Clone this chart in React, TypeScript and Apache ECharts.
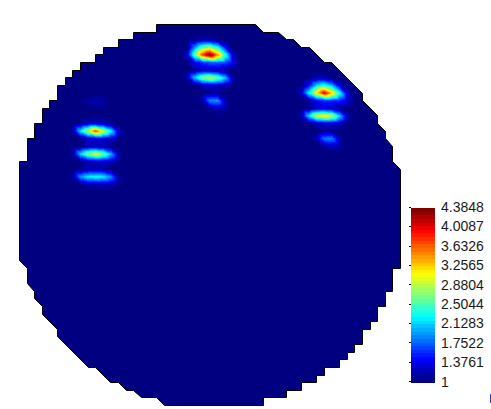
import React, { useEffect, useRef } from "react";
import * as echarts from "echarts";

const vMin = 1;
const vMax = 4.3848;
const tickValues = [1, 1.3761, 1.7522, 2.1283, 2.5044, 2.8804, 3.2565, 3.6326, 4.0087, 4.3848];
const bandCount = 48;

// Wafer outline, as mesh node columns and rows (clockwise from the top edge).
const outlineCol = [18,31,32,34,35,36,37,38,40,41,45,45,47,47,48,48,49,49,50,50,49,49,48,48,47,47,46,46,45,45,44,44,43,43,42,42,40,40,39,39,37,37,35,35,32,32,19,18,16,15,14,13,12,10,9,5,5,3,3,2,2,1,1,0,0,1,1,2,2,3,3,4,4,5,5,6,6,7,7,8,8,10,10,11,11,13,13,15,15,18];
const outlineRow = [0,0,1,1,2,2,3,3,5,5,9,10,12,13,14,15,16,18,19,32,32,35,35,37,37,39,39,40,40,42,42,43,43,44,44,45,45,46,46,47,47,48,48,49,49,50,50,49,49,48,48,47,47,45,45,41,40,38,37,36,35,34,32,31,18,18,15,15,13,13,11,11,10,10,8,8,7,7,6,6,5,5,4,4,3,3,2,2,1,1];

// Mesh node values above the base level of 1: [column, row, value].
const spotTopCentre = [
  [23,2,1.05],[24,2,1.18],[25,2,1.18],[26,2,1.08],
  [23,3,1.9],[24,3,2.55],[25,3,2.75],[26,3,2.35],[27,3,1.5],
  [22,4,1.3],[23,4,2.6],[24,4,3.75],[25,4,4.38],[26,4,3.5],[27,4,2.45],[28,4,1.35],
  [22,5,1.05],[23,5,1.4],[24,5,1.6],[25,5,1.7],[26,5,1.75],[27,5,1.7],[28,5,1.35],
];
const spotMidCentre = [
  [22,7,1.2],[23,7,2.1],[24,7,2.7],[25,7,2.95],[26,7,2.65],[27,7,2.1],[28,7,1.2],
  [23,6,1.1],[24,6,1.25],[25,6,1.25],[26,6,1.2],[27,6,1.08],
  [23,8,1.08],[24,8,1.2],[25,8,1.25],[26,8,1.25],[27,8,1.2],
];
const spotLowCentre = [
  [24,10,1.2],[25,10,1.9],[26,10,1.95],[27,10,1.2],
  [25,9,1.1],[26,9,1.1],[25,11,1.12],[26,11,1.2],[27,11,1.15],
];
const spotTopRight = [
  [38,8,1.45],[39,8,2.15],[40,8,2.4],[41,8,2.05],[42,8,1.35],
  [39,7,1.18],[40,7,1.18],[41,7,1.08],
  [37,9,1.3],[38,9,2.3],[39,9,3.2],[40,9,4.05],[41,9,3.3],[42,9,2.35],[43,9,1.35],
  [38,10,1.15],[39,10,1.45],[40,10,1.6],[41,10,1.6],[42,10,1.55],[43,10,1.3],
];
const spotMidRight = [
  [37,12,1.2],[38,12,2.2],[39,12,3.0],[40,12,3.2],[41,12,2.95],[42,12,2.15],[43,12,1.25],
  [38,11,1.08],[39,11,1.25],[40,11,1.28],[41,11,1.25],[42,11,1.1],
  [38,13,1.08],[39,13,1.22],[40,13,1.25],[41,13,1.28],[42,13,1.22],
];
const spotLowRight = [
  [39,15,1.2],[40,15,1.85],[41,15,1.9],[42,15,1.2],
  [40,14,1.1],[41,14,1.1],[40,16,1.12],[41,16,1.2],[42,16,1.15],
];
const spotFaintLeft = [
  [8,10,1.08],[9,10,1.12],[10,10,1.18],[11,10,1.16],[12,10,1.05],
  [9,11,1.05],[10,11,1.08],[11,11,1.08],
];
const spotUpperLeft = [
  [7,14,1.15],[8,14,2.2],[9,14,2.95],[10,14,3.75],[11,14,3.0],[12,14,2.3],[13,14,1.3],
  [8,13,1.08],[9,13,1.25],[10,13,1.3],[11,13,1.25],[12,13,1.08],
  [8,15,1.05],[9,15,1.25],[10,15,1.3],[11,15,1.3],[12,15,1.25],[13,15,1.05],
];
const spotMiddleLeft = [
  [7,17,1.15],[8,17,2.15],[9,17,2.75],[10,17,3.05],[11,17,2.7],[12,17,2.05],[13,17,1.2],
  [8,16,1.05],[9,16,1.2],[10,16,1.22],[11,16,1.2],[12,16,1.05],
  [8,18,1.05],[9,18,1.2],[10,18,1.25],[11,18,1.25],[12,18,1.2],[13,18,1.05],
];
const spotLowerLeft = [
  [7,20,1.15],[8,20,1.95],[9,20,2.25],[10,20,2.3],[11,20,2.25],[12,20,1.9],[13,20,1.15],
  [8,19,1.05],[9,19,1.18],[10,19,1.2],[11,19,1.18],[12,19,1.05],
  [8,21,1.05],[9,21,1.18],[10,21,1.2],[11,21,1.2],[12,21,1.18],[13,21,1.05],
];

const spots = [
  spotTopCentre, spotMidCentre, spotLowCentre, spotTopRight, spotMidRight,
  spotLowRight, spotFaintLeft, spotUpperLeft, spotMiddleLeft, spotLowerLeft,
];

function jet(t: number): string {
  const c = (x: number) => Math.round(255 * Math.max(0, Math.min(1, x)));
  const r = 1.5 - Math.abs(4 * t - 3);
  const g = 1.5 - Math.abs(4 * t - 2);
  const b = 1.5 - Math.abs(4 * t - 1);
  return `rgb(${c(r)},${c(g)},${c(b)})`;
}
const bandColors = Array.from({ length: bandCount }, (_, i) => jet(i / (bandCount - 1)));
const bandIndex = (v: number) =>
  Math.max(0, Math.min(bandCount - 1, Math.floor(((v - vMin) / (vMax - vMin)) * bandCount)));

const nodeValues = new Map<string, number>();
spots.forEach((s) => s.forEach(([k, j, v]) => nodeValues.set(k + "," + j, v)));
const nodeValue = (k: number, j: number) => nodeValues.get(k + "," + j) ?? vMin;

// One item for each mesh cell that has a corner above the base level.
const cellData: number[][] = [];
for (let j = 0; j < 50; j++) {
  for (let k = 0; k < 50; k++) {
    const a = nodeValue(k, j), b = nodeValue(k + 1, j), c = nodeValue(k, j + 1), d = nodeValue(k + 1, j + 1);
    if (a > vMin || b > vMin || c > vMin || d > vMin) cellData.push([k, j, a, b, c, d]);
  }
}
const bandData = bandColors.map((_, i) => [
  vMin + ((vMax - vMin) * i) / bandCount,
  vMin + ((vMax - vMin) * (i + 1)) / bandCount,
  i,
]);

export default function App() {
  const ref = useRef<HTMLDivElement>(null);
  useEffect(() => {
    const chart = echarts.init(ref.current!, null, { renderer: "svg" });
    chart.setOption({
      animation: false,
      backgroundColor: "#ffffff",
      grid: [
        { left: 19.5, top: 24.5, width: 381, height: 381, show: false },
        { left: 411, top: 207, width: 24, height: 174.5, show: false },
      ],
      xAxis: [
        { type: "value", gridIndex: 0, min: 0, max: 50, show: false },
        { type: "value", gridIndex: 1, min: 0, max: 1, show: false },
      ],
      yAxis: [
        { type: "value", gridIndex: 0, min: 0, max: 50, inverse: true, show: false },
        {
          type: "value",
          gridIndex: 1,
          min: vMin,
          max: vMax,
          position: "right",
          axisLine: { show: false },
          splitLine: { show: false },
          axisTick: { show: true, inside: true, length: 2, lineStyle: { color: "#000", width: 1 }, customValues: tickValues },
          axisLabel: {
            show: true,
            margin: 6,
            fontFamily: "Liberation Sans",
            fontSize: 14,
            color: "#1a1a1a",
            customValues: tickValues,
            formatter: (v: number) => String(v),
          },
        },
      ],
      graphic: [
        { type: "rect", x: 490, y: 394, shape: { width: 1, height: 9 }, style: { fill: "#3a3ac8" }, silent: true },
      ],
      series: [
        {
          type: "custom",
          silent: true,
          xAxisIndex: 0,
          yAxisIndex: 0,
          clip: false,
          data: [[0, 0]],
          encode: { x: 0, y: 1 },
          renderItem: (_p: any, api: any) => {
            const points = outlineCol.map((k, i) => {
              const [x, y] = api.coord([k, outlineRow[i]]);
              return [Math.floor(x) + 0.5, Math.floor(y) + 0.5];
            });
            return {
              type: "polygon",
              shape: { points },
              style: { fill: bandColors[0], stroke: "#000", lineWidth: 1 },
            };
          },
        },
        {
          type: "custom",
          silent: true,
          xAxisIndex: 0,
          yAxisIndex: 0,
          clip: false,
          data: cellData,
          encode: { x: 0, y: 1 },
          renderItem: (_p: any, api: any) => {
            const k = api.value(0), j = api.value(1);
            const a = api.value(2), b = api.value(3), c = api.value(4), d = api.value(5);
            const [x0, y0] = api.coord([k, j]);
            const [x1, y1] = api.coord([k + 1, j + 1]);
            const px0 = Math.round(x0), px1 = Math.round(x1), py0 = Math.round(y0), py1 = Math.round(y1);
            const children: any[] = [];
            for (let py = py0; py < py1; py++) {
              const v = (py + 0.5 - y0) / (y1 - y0);
              let runStart = px0;
              let runBand = -1;
              for (let px = px0; px <= px1; px++) {
                let band = -2;
                if (px < px1) {
                  const u = (px + 0.5 - x0) / (x1 - x0);
                  // Each cell is two flat triangles split along its falling diagonal.
                  const val = u >= v ? a + u * (b - a) + v * (d - b) : a + v * (c - a) + u * (d - c);
                  band = bandIndex(val);
                }
                if (band !== runBand) {
                  if (runBand > 0) {
                    children.push({
                      type: "rect",
                      shape: { x: runStart, y: py, width: px - runStart, height: 1 },
                      style: { fill: bandColors[runBand] },
                    });
                  }
                  runStart = px;
                  runBand = band;
                }
              }
            }
            return { type: "group", children };
          },
        },
        {
          type: "custom",
          silent: true,
          z: 1,
          xAxisIndex: 1,
          yAxisIndex: 1,
          data: bandData,
          encode: { y: 0 },
          renderItem: (_p: any, api: any) => {
            const [x0, y0] = api.coord([0, api.value(0)]);
            const [x1, y1] = api.coord([1, api.value(1)]);
            const top = Math.round(y1) + 1, bottom = Math.round(y0) + 1;
            return {
              type: "rect",
              shape: { x: Math.round(x0), y: top, width: Math.round(x1 - x0), height: bottom - top },
              style: { fill: bandColors[api.value(2)] },
            };
          },
        },
      ],
    });
    return () => chart.dispose();
  }, []);
  return (
    <div
      ref={ref}
      style={{ position: "fixed", left: 0, top: 0, width: 491, height: 409, background: "#fff" }}
    />
  );
}
